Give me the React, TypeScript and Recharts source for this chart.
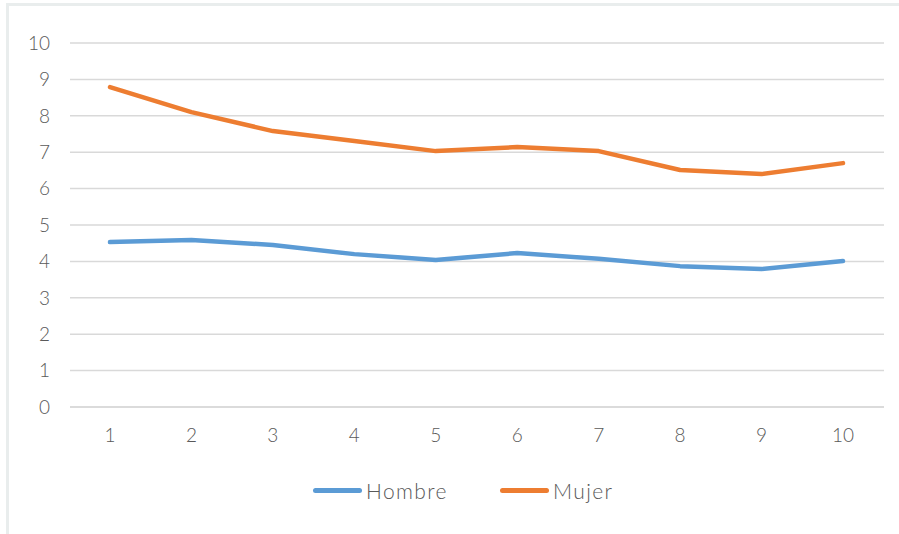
import { LineChart, Line, XAxis, YAxis, CartesianGrid } from 'recharts';

// Values
const categories = ['1', '2', '3', '4', '5', '6', '7', '8', '9', '10'];
const hombre = [4.53, 4.59, 4.45, 4.2, 4.04, 4.23, 4.07, 3.87, 3.79, 4.01];
const mujer = [8.79, 8.1, 7.58, 7.31, 7.03, 7.14, 7.03, 6.51, 6.4, 6.7];
const yTicks = [0, 1, 2, 3, 4, 5, 6, 7, 8, 9, 10];

const series = [
  { key: 'Hombre', color: '#5b9bd5' },
  { key: 'Mujer', color: '#ed7d31' },
];

const data = categories.map((c, i) => ({ cat: c, Hombre: hombre[i], Mujer: mujer[i] }));

const FONT = 'Lato, "DejaVu Sans", sans-serif';
const TEXT = '#595959';

const App = () => {
  return (
    <div style={{ position: 'absolute', left: 0, top: 0, width: 899, height: 534, background: '#fff' }}>
      <div style={{ position: 'absolute', left: 6, top: 3, width: 893, height: 531, borderTop: '3px solid #e9eded', borderLeft: '3px solid #e9eded', boxSizing: 'border-box' }} />
      <div style={{ position: 'absolute', left: 0, top: 0 }}>
        <LineChart width={899} height={534} data={data} margin={{ top: 43, right: 15, bottom: 0, left: 0 }}>
          <CartesianGrid vertical={false} stroke="#d9d9d9" strokeWidth={1.5} />
          <XAxis
            dataKey="cat"
            padding={{ left: 40, right: 41 }}
            axisLine={{ stroke: '#d9d9d9', strokeWidth: 1.5 }}
            tickLine={false}
            tick={{ fill: TEXT, fontSize: 19, fontFamily: FONT, fontWeight: 300 }}
            tickMargin={16}
            height={127}
          />
          <YAxis
            domain={[0, 10]}
            ticks={yTicks}
            interval={0}
            axisLine={false}
            tickLine={false}
            tick={{ fill: TEXT, fontSize: 19, fontFamily: FONT, fontWeight: 300 }}
            tickMargin={14}
            width={70}
          />
          {series.map((s) => (
            <Line
              key={s.key}
              type="linear"
              dataKey={s.key}
              stroke={s.color}
              strokeWidth={4.5}
              dot={false}
              strokeLinecap="round"
              strokeLinejoin="round"
              isAnimationActive={false}
            />
          ))}
        </LineChart>
      </div>
      <div style={{ position: 'absolute', top: 478, left: 313, display: 'flex', gap: 52, fontFamily: FONT, fontWeight: 300, fontSize: 21, letterSpacing: 1.4, color: TEXT }}>
        {series.map((s) => (
          <div key={s.key} style={{ display: 'flex', alignItems: 'center' }}>
            <span style={{ display: 'inline-block', width: 49, height: 5, borderRadius: 3, background: s.color, marginRight: 4 }} />
            <span>{s.key}</span>
          </div>
        ))}
      </div>
    </div>
  );
};

export default App;
